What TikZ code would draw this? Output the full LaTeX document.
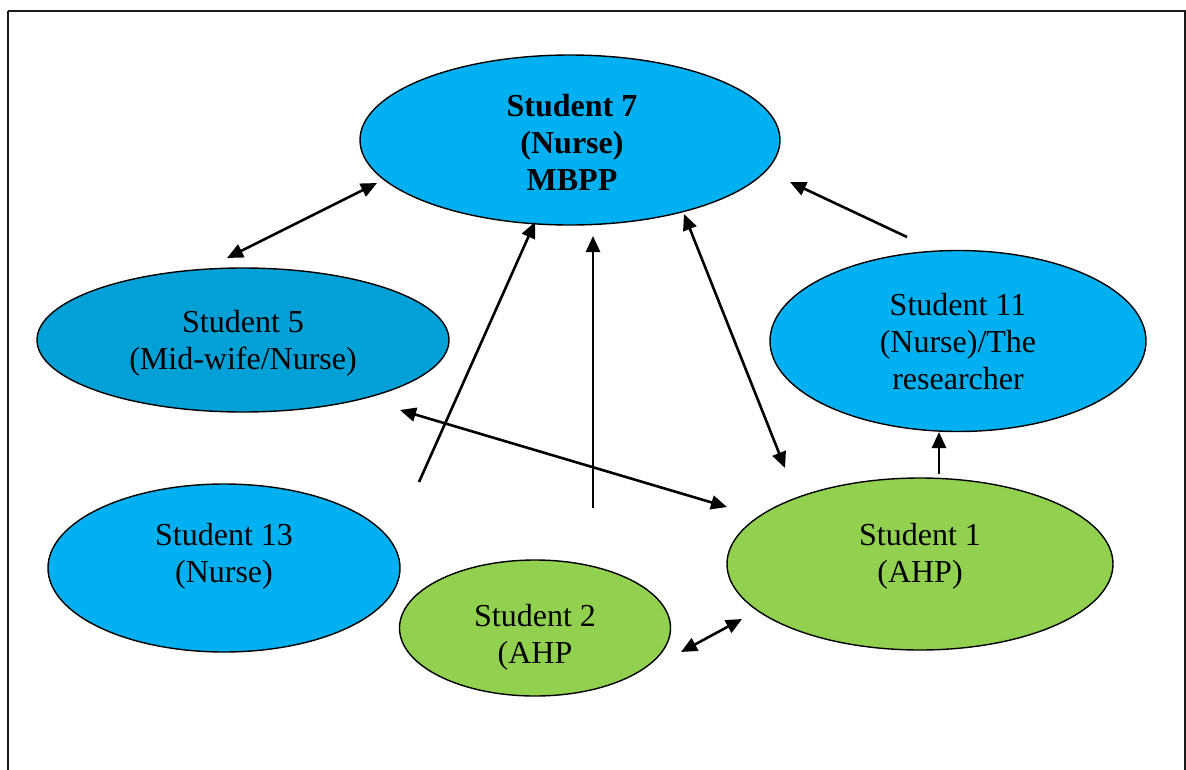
\documentclass[tikz,border=0pt]{standalone}
\usepackage{fontspec}
\setmainfont{Liberation Serif}
\usetikzlibrary{shapes.geometric,arrows.meta}
\definecolor{nblue}{HTML}{00B0F0}
\definecolor{dblue}{HTML}{01A0D6}
\definecolor{ngreen}{HTML}{92D050}
\tikzset{
  oval/.style={ellipse, draw=black, line width=1.4pt, inner sep=0pt},
  lbl/.style={align=center, inner sep=0pt, font=\fontsize{32}{37}\selectfont},
  conn/.style={line width=2.6pt, -{Triangle[length=16pt,width=14pt]}},
  bconn/.style={line width=2.6pt, {Triangle[length=16pt,width=14pt]}-{Triangle[length=16pt,width=14pt]}},
}
\begin{document}
\begin{tikzpicture}[x=1pt,y=-1pt]
\useasboundingbox (0,0) rectangle (1186,769);
% frame
\draw[line width=2pt, black!90] (8,11) -- (1184.5,11) -- (1184.5,800) (8,11) -- (8,800);
% ellipses
\node[oval, fill=nblue, minimum width=420pt, minimum height=170pt] (e7) at (570,140) {};
\node[oval, fill=dblue, minimum width=412pt, minimum height=144pt] (e5) at (243,340) {};
\node[oval, fill=nblue, minimum width=376pt, minimum height=181pt] (e11) at (958,341) {};
\node[oval, fill=nblue, minimum width=352pt, minimum height=168pt] (e13) at (224,568) {};
\node[oval, fill=ngreen, minimum width=271pt, minimum height=136pt] (e2) at (535,628) {};
\node[oval, fill=ngreen, minimum width=386pt, minimum height=172pt] (e1) at (920,564) {};
% labels
\node[lbl, font=\fontsize{32}{37}\selectfont\bfseries] (t7) at (572,142) {Student 7\\(Nurse)\\MBPP};
\node[lbl] (t5) at (243,343) {Student 5\\(Mid-wife/Nurse)};
\node[lbl] (t11) at (958,342) {Student 11\\(Nurse)/The\\researcher};
\node[lbl] (t13) at (224,556) {Student 13\\(Nurse)};
\node[lbl] (t2) at (535,637) {Student 2\\(AHP};
\node[lbl] (t1) at (920,556) {Student 1\\(AHP)};
% connector end points
\coordinate (a1s) at (227,258);
\coordinate (a1e) at (377,183);
\coordinate (a2s) at (419,482);
\coordinate (a2e) at (535,222);
\coordinate (a3s) at (593,508);
\coordinate (a3e) at (593,236);
\coordinate (a4s) at (684,214);
\coordinate (a4e) at (785,468);
\coordinate (a5s) at (907,237);
\coordinate (a5e) at (790,182);
\coordinate (a6s) at (939,474);
\coordinate (a6e) at (939,432);
\coordinate (a7s) at (400,410);
\coordinate (a7e) at (727,507);
\coordinate (a8s) at (681,652);
\coordinate (a8e) at (742,619);
% connectors
\draw[bconn] (a1s) -- (a1e);
\draw[conn] (a2s) -- (a2e);
\draw[conn] (a3s) -- (a3e);
\draw[bconn] (a4s) -- (a4e);
\draw[conn] (a5s) -- (a5e);
\draw[conn] (a6s) -- (a6e);
\draw[bconn] (a7s) -- (a7e);
\draw[bconn] (a8s) -- (a8e);
\end{tikzpicture}
\end{document}
